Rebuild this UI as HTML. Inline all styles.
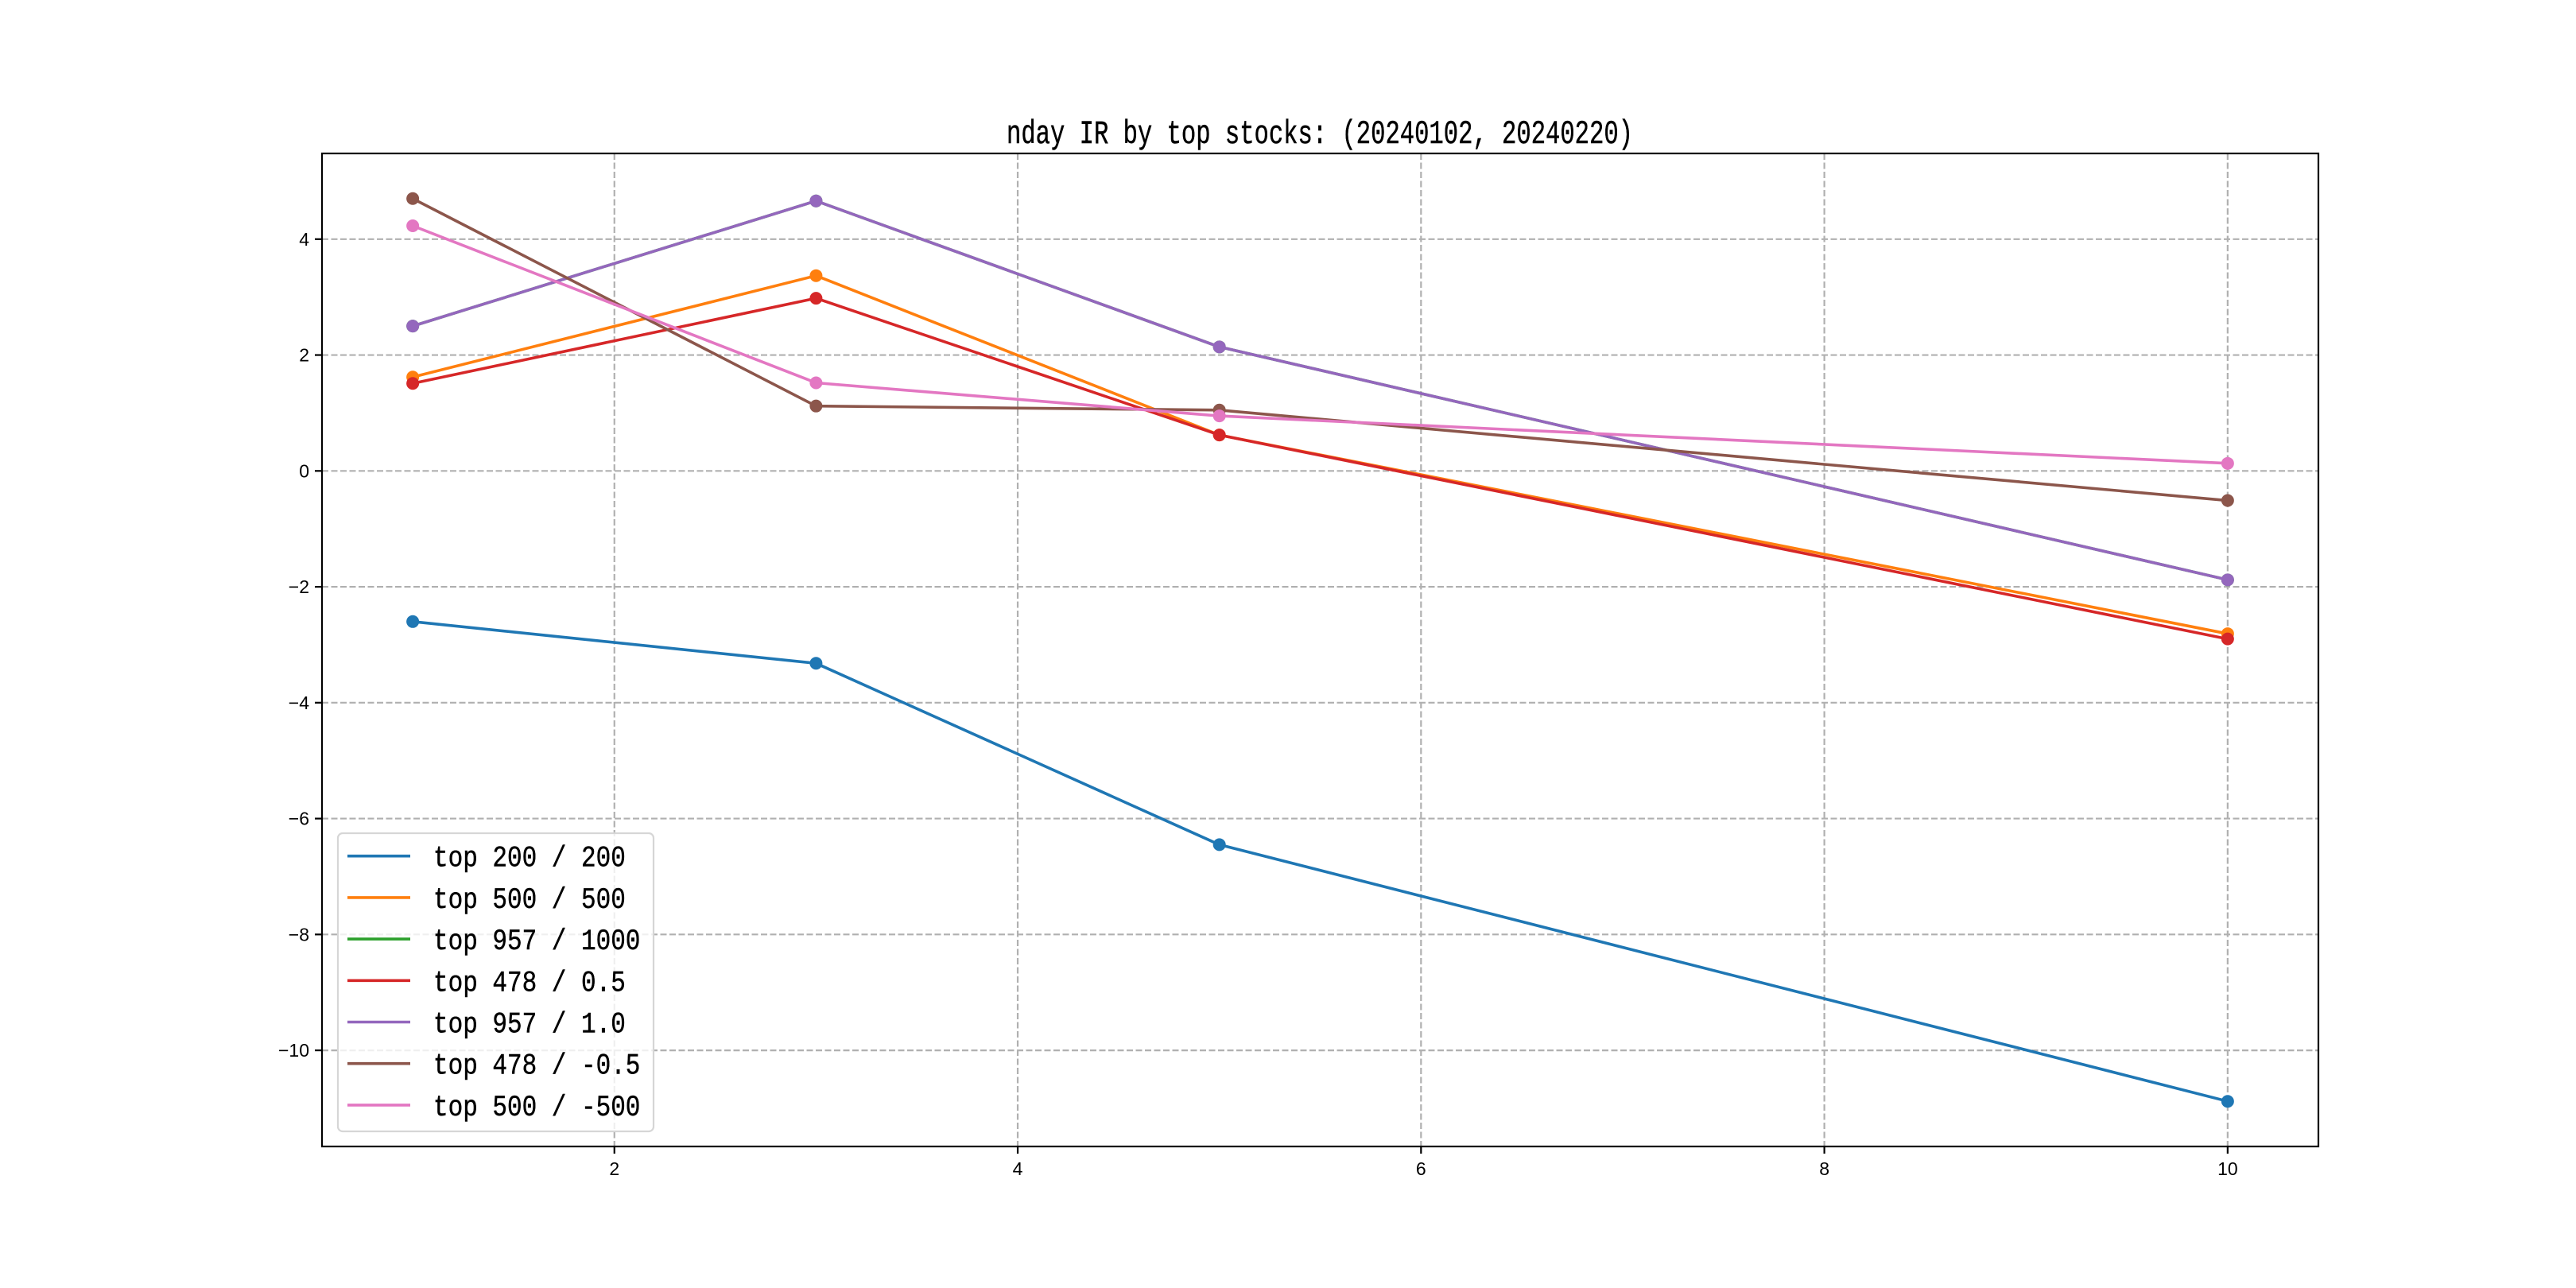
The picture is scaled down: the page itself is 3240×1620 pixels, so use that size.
<!DOCTYPE html>
<html><head><meta charset="utf-8"><style>
html,body{margin:0;padding:0;background:#fff;}
svg{display:block;}
</style></head><body>
<svg id="chart" width="3240" height="1620" xmlns="http://www.w3.org/2000/svg">
<rect x="0" y="0" width="3240" height="1620" fill="#fff"/>
<g id="grid"></g>
<g id="series"></g>
<rect x="405" y="193" width="2511" height="1249" fill="none" stroke="#000" stroke-width="2.2"/>
<g id="ticks"></g>
<text x="1660" y="150" transform="translate(0,180) scale(1,1.2) translate(0,-150)" text-anchor="middle" font-family="Liberation Mono, monospace" font-size="35" textLength="788" lengthAdjust="spacingAndGlyphs" fill="#000" stroke="#000" stroke-width="0.4">nday IR by top stocks: (20240102, 20240220)</text>
<g id="legend"></g>
</svg>
<script>
const xValues = [1, 3, 5, 10];
const seriesNames = ["top 200 / 200","top 500 / 500","top 957 / 1000","top 478 / 0.5","top 957 / 1.0","top 478 / -0.5","top 500 / -500"];
const seriesColors = ["#1f77b4","#ff7f0e","#2ca02c","#d62728","#9467bd","#8c564b","#e377c2"];
const s200 = [-2.6, -3.32, -6.45, -10.88];
const s500 = [1.62, 3.37, 0.62, -2.81];
const s957 = [2.5, 4.66, 2.14, -1.88];
const s478 = [1.51, 2.98, 0.62, -2.90];
const s957b = [2.5, 4.66, 2.14, -1.88];
const s478n = [4.70, 1.12, 1.05, -0.51];
const s500n = [4.23, 1.52, 0.95, 0.13];
const seriesValues = [s200, s500, s957, s478, s957b, s478n, s500n];
const xTicks = [2, 4, 6, 8, 10];
const yTicks = [-10, -8, -6, -4, -2, 0, 2, 4];

const NS = "http://www.w3.org/2000/svg";
const L = 405, R = 2916, T = 193, B = 1442;
const allV = seriesValues.flat();
const vmin = Math.min(...allV), vmax = Math.max(...allV);
const ymin = vmin - 0.05*(vmax-vmin), ymax = vmax + 0.05*(vmax-vmin);
const xmin = Math.min(...xValues), xmax = Math.max(...xValues);
const xlo = xmin - 0.05*(xmax-xmin), xhi = xmax + 0.05*(xmax-xmin);
function xs(v){ return L + (v - xlo)/(xhi - xlo)*(R - L); }
function ys(v){ return B - (v - ymin)/(ymax - ymin)*(B - T); }
function mk(tag, attrs, parent){ const e=document.createElementNS(NS,tag); for(const k in attrs) e.setAttribute(k, attrs[k]); parent.appendChild(e); return e; }

const grid = document.getElementById('grid');
const ticks = document.getElementById('ticks');
xTicks.forEach(t => {
  const x = xs(t);
  const g = mk('line',{x1:x,x2:x,y1:T,y2:B,stroke:'#b0b0b0','stroke-width':2.2,'stroke-dasharray':'8 3.5'},grid);
  
  
  const tk = mk('line',{x1:x,x2:x,y1:B,y2:B+9,stroke:'#000','stroke-width':2.2},ticks);
  
  
  const lb = mk('text',{x:x,y:B+36,'text-anchor':'middle','font-family':'Liberation Sans, sans-serif','font-size':23,fill:'#000'},ticks);
  lb.textContent = String(t);
  
  
});
yTicks.forEach(t => {
  const y = ys(t);
  const g = mk('line',{x1:L,x2:R,y1:y,y2:y,stroke:'#b0b0b0','stroke-width':2.2,'stroke-dasharray':'8 3.5'},grid);
  
  
  const tk = mk('line',{x1:L-9,x2:L,y1:y,y2:y,stroke:'#000','stroke-width':2.2},ticks);
  
  
  const lb = mk('text',{x:L-16,y:y+8,'text-anchor':'end','font-family':'Liberation Sans, sans-serif','font-size':23,fill:'#000'},ticks);
  lb.textContent = t < 0 ? '\u2212' + Math.abs(t) : String(t);
  
  
});

const sg = document.getElementById('series');
seriesValues.forEach((vals, i) => {
  const pts = vals.map((v, j) => xs(xValues[j]).toFixed(1) + ',' + ys(v).toFixed(1)).join(' ');
  const pl = mk('polyline',{points:pts,fill:'none',stroke:seriesColors[i],'stroke-width':3.6,'stroke-linejoin':'round'},sg);
  
  
  vals.forEach((v, j) => {
    const c = mk('circle',{cx:xs(xValues[j]),cy:ys(v),r:8,fill:seriesColors[i]},sg);
    
    
  });
});

const lg = document.getElementById('legend');
const box = mk('rect',{x:425,y:1048,width:397,height:375,rx:6,fill:'#fff','fill-opacity':0.8,stroke:'#d6d6d6','stroke-width':2.2},lg);


seriesNames.forEach((n, i) => {
  const y = 1076.7 + i*52.2;
  const ln = mk('line',{x1:437,x2:516,y1:y,y2:y,stroke:seriesColors[i],'stroke-width':3.6},lg);
  
  
  const by = y + 13;
  const tx = mk('text',{x:545,y:by,transform:'translate(0,' + by + ') scale(1,1.2) translate(0,' + (-by) + ')','font-family':'Liberation Mono, monospace','font-size':31,fill:'#000',stroke:'#000','stroke-width':0.4},lg);
  tx.textContent = n;
  
  
});
</script>
</body></html>
